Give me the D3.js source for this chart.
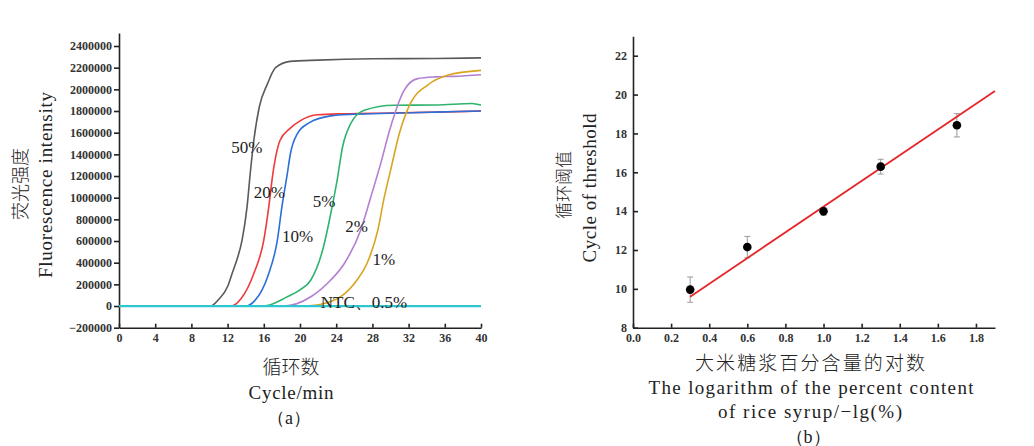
<!DOCTYPE html>
<html>
<head>
<meta charset="utf-8">
<script src="https://cdn.jsdelivr.net/npm/d3@7"></script>
<style>
  body { margin: 0; background: #fff; }
  svg text { font-family: "Times New Roman", "Liberation Serif", Times, serif; fill: #222; }
  .tick text { font-size: 12px; font-weight: bold; fill: #333; }
  .cn { font-family: "Noto Sans CJK SC", sans-serif !important; font-weight: 300; }
</style>
</head>
<body>
<div id="chart"></div>
<script>
(function(){

	// ---- (a) amplification curves: [cycle, fluorescence]
	var labelsA = ["50%", "20%", "10%", "5%", "2%", "1%", "NTC、0.5%"];
	var colorsA = ["#5a5a5a", "#f0393c", "#2c6fd8", "#2fb36d", "#b27fd2", "#d9a421", "#2ec7cf"];
	var s50 = [[0,0],[10.1,0],[11,60000],[12,180000],[12.5,301000],[13,420000],[13.6,608000],[14.15,915000],[14.5,1223000],[14.9,1530000],[15.5,1837000],[16.4,2050000],[17.3,2200000],[18.9,2258000],[22,2270000],[28,2282000],[35,2285000],[40,2290000]];
	var s20 = [[0,0],[12.4,0],[13.5,70000],[14.9,301000],[16,608000],[16.55,915000],[17,1220000],[17.8,1530000],[18.9,1640000],[20.1,1714000],[21.9,1765000],[25,1775000],[30,1782000],[35,1790000],[40,1800000]];
	var s10 = [[0,0],[14.1,0],[15,50000],[15.8,147000],[16.55,301000],[17.5,608000],[18,915000],[18.6,1223000],[18.95,1410000],[19.7,1590000],[21,1690000],[23.4,1755000],[26,1770000],[30,1780000],[35,1790000],[40,1800000]];
	var s5  = [[0,0],[16,0],[18.6,86000],[20,150000],[21.2,240000],[22.6,547000],[23.4,854000],[24.1,1160000],[24.7,1468000],[25.6,1684000],[27.1,1807000],[30.4,1853000],[35,1855000],[39,1870000],[40,1855000]];
	var s2  = [[0,0],[18.2,0],[21.2,86000],[23.4,240000],[24.9,393000],[26.7,700000],[27.8,1000000],[28.9,1310000],[30,1650000],[31.5,1990000],[33,2099000],[35,2115000],[37,2120000],[40,2135000]];
	var s1  = [[0,0],[20.8,0],[23,30000],[24.5,86000],[26.3,240000],[27.4,393000],[28.6,700000],[29.3,1000000],[30,1250000],[31,1600000],[32.2,1870000],[34.1,2040000],[36.3,2130000],[40,2175000]];
	var sNTC = [[0,0],[40,0]];
	var seriesA = [s50, s20, s10, s5, s2, s1, sNTC];
	// label anchor (left, baseline) in data units [cycle, value]
	var labelPosA = [[12.4,1410000],[14.9,995000],[18.0,590000],[21.4,912000],[25.0,682000],[28.0,378000],[22.3,-18000]];
	var xTicksA = d3.range(0, 41, 4);
	var yTicksA = d3.range(-200000, 2400001, 200000);

	// ---- (b) standard curve
	var logConc = [0.3, 0.6, 1.0, 1.3, 1.7];
	var ctMean  = [9.96, 12.15, 13.99, 16.29, 18.42];
	var ctErr   = [0.65, 0.55, 0.2, 0.38, 0.6];
	var fit = [6.62, 7.61]; // slope, intercept
	var fitRange = [0.3, 1.9];
	var xTicksB = d3.range(0, 1.81, 0.2);
	var yTicksB = d3.range(8, 22.1, 2);

	var width = 1034, height = 446;
	var svg = d3.select("div#chart").append("svg")
		.attr("width", width).attr("height", height);

	function styleAxis(g){
		g.attr("font-family", null);
		g.selectAll("line,path").attr("stroke","#222").attr("stroke-width",1.6);
	}

	// ================= chart (a) =================
	var xA = d3.scaleLinear().domain([0, 40]).range([119, 481]);
	var yA = d3.scaleLinear().domain([-200000, 2520000]).range([327.7, 33]);

	var gA = svg.append("g");
	gA.append("g")
		.attr("transform", "translate(0,327.7)")
		.call(d3.axisBottom(xA).tickValues(xTicksA).tickSize(-4).tickSizeOuter(0).tickPadding(6))
		.call(styleAxis);
	gA.append("g")
		.attr("transform", "translate(119,0)")
		.call(d3.axisLeft(yA).tickValues(yTicksA).tickFormat(d3.format("d")).tickSize(5).tickSizeOuter(0).tickPadding(2))
		.call(styleAxis);

	var lineA = d3.line()
		.x(function(d){ return xA(d[0]); })
		.y(function(d){ return yA(d[1]); })
		.curve(d3.curveMonotoneX);

	gA.selectAll(".amp")
		.data(seriesA)
		.enter().append("path")
		.attr("class","amp")
		.attr("d", lineA)
		.attr("fill","none")
		.attr("stroke", function(d,i){ return colorsA[i]; })
		.attr("stroke-width", function(d,i){ return i == 6 ? 2.2 : 1.6; });

	gA.selectAll(".lab")
		.data(labelsA)
		.enter().append("text")
		.attr("class","lab")
		.attr("x", function(d,i){ return xA(labelPosA[i][0]); })
		.attr("y", function(d,i){ return yA(labelPosA[i][1]); })
		.attr("font-size", 17)
		.text(function(d){ return d; });

	gA.append("text").attr("class","cn")
		.attr("transform","translate(27,184) rotate(-90)")
		.attr("text-anchor","middle").attr("font-size",18)
		.text("荧光强度");
	gA.append("text")
		.attr("transform","translate(52,185) rotate(-90)")
		.attr("text-anchor","middle").attr("font-size",19)
		.attr("textLength",186).attr("lengthAdjust","spacing")
		.text("Fluorescence intensity");
	gA.append("text").attr("class","cn")
		.attr("x",291).attr("y",374).attr("text-anchor","middle").attr("font-size",19)
		.text("循环数");
	gA.append("text")
		.attr("x",291).attr("y",399).attr("text-anchor","middle").attr("font-size",19)
		.attr("textLength",85).attr("lengthAdjust","spacing")
		.text("Cycle/min");
	gA.append("text")
		.attr("x",289).attr("y",424).attr("text-anchor","middle").attr("font-size",18)
		.text("（a）");

	// ================= chart (b) =================
	var xB = d3.scaleLinear().domain([0, 1.9]).range([633, 995]);
	var yB = d3.scaleLinear().domain([8, 23]).range([327.7, 36.3]);

	var gB = svg.append("g");
	gB.append("g")
		.attr("transform", "translate(0,327.7)")
		.call(d3.axisBottom(xB).tickValues(xTicksB).tickFormat(d3.format(".1f")).tickSize(-4).tickSizeOuter(0).tickPadding(6))
		.call(styleAxis);
	gB.append("g")
		.attr("transform", "translate(633,0)")
		.call(d3.axisLeft(yB).tickValues(yTicksB).tickSize(-5).tickSizeOuter(0).tickPadding(6))
		.call(styleAxis);

	var pts = logConc.map(function(x,i){ return {x:x, y:ctMean[i], e:ctErr[i]}; });

	var eb = gB.selectAll(".err").data(pts).enter().append("g").attr("class","err")
		.attr("stroke","#9a9a9a").attr("stroke-width",1);
	eb.append("line")
		.attr("x1", function(d){ return xB(d.x); }).attr("x2", function(d){ return xB(d.x); })
		.attr("y1", function(d){ return yB(d.y + d.e); }).attr("y2", function(d){ return yB(d.y - d.e); });
	eb.append("line")
		.attr("x1", function(d){ return xB(d.x) - 3; }).attr("x2", function(d){ return xB(d.x) + 3; })
		.attr("y1", function(d){ return yB(d.y + d.e); }).attr("y2", function(d){ return yB(d.y + d.e); });
	eb.append("line")
		.attr("x1", function(d){ return xB(d.x) - 3; }).attr("x2", function(d){ return xB(d.x) + 3; })
		.attr("y1", function(d){ return yB(d.y - d.e); }).attr("y2", function(d){ return yB(d.y - d.e); });

	gB.append("line")
		.attr("x1", xB(fitRange[0])).attr("y1", yB(fit[0]*fitRange[0] + fit[1]))
		.attr("x2", xB(fitRange[1])).attr("y2", yB(fit[0]*fitRange[1] + fit[1]))
		.attr("stroke","#e5262a").attr("stroke-width",1.8);

	gB.selectAll(".pt").data(pts).enter().append("circle")
		.attr("class","pt")
		.attr("cx", function(d){ return xB(d.x); })
		.attr("cy", function(d){ return yB(d.y); })
		.attr("r", 4.3)
		.attr("fill","#000");

	gB.append("text").attr("class","cn")
		.attr("transform","translate(570,185) rotate(-90)")
		.attr("text-anchor","middle").attr("font-size",17)
		.text("循环阈值");
	gB.append("text")
		.attr("transform","translate(596,188) rotate(-90)")
		.attr("text-anchor","middle").attr("font-size",19)
		.attr("textLength",149).attr("lengthAdjust","spacing")
		.text("Cycle of threshold");
	gB.append("text").attr("class","cn")
		.attr("x",810).attr("y",370).attr("text-anchor","middle").attr("font-size",19)
		.attr("textLength",230).attr("lengthAdjust","spacing")
		.text("大米糖浆百分含量的对数");
	gB.append("text")
		.attr("x",811).attr("y",394).attr("text-anchor","middle").attr("font-size",19)
		.attr("textLength",325).attr("lengthAdjust","spacing")
		.text("The logarithm of the percent content");
	gB.append("text")
		.attr("x",810).attr("y",418).attr("text-anchor","middle").attr("font-size",19)
		.attr("textLength",184).attr("lengthAdjust","spacing")
		.text("of rice syrup/−lg(%)");
	gB.append("text")
		.attr("x",808).attr("y",443).attr("text-anchor","middle").attr("font-size",18)
		.text("（b）");

})();
</script>
</body>
</html>
